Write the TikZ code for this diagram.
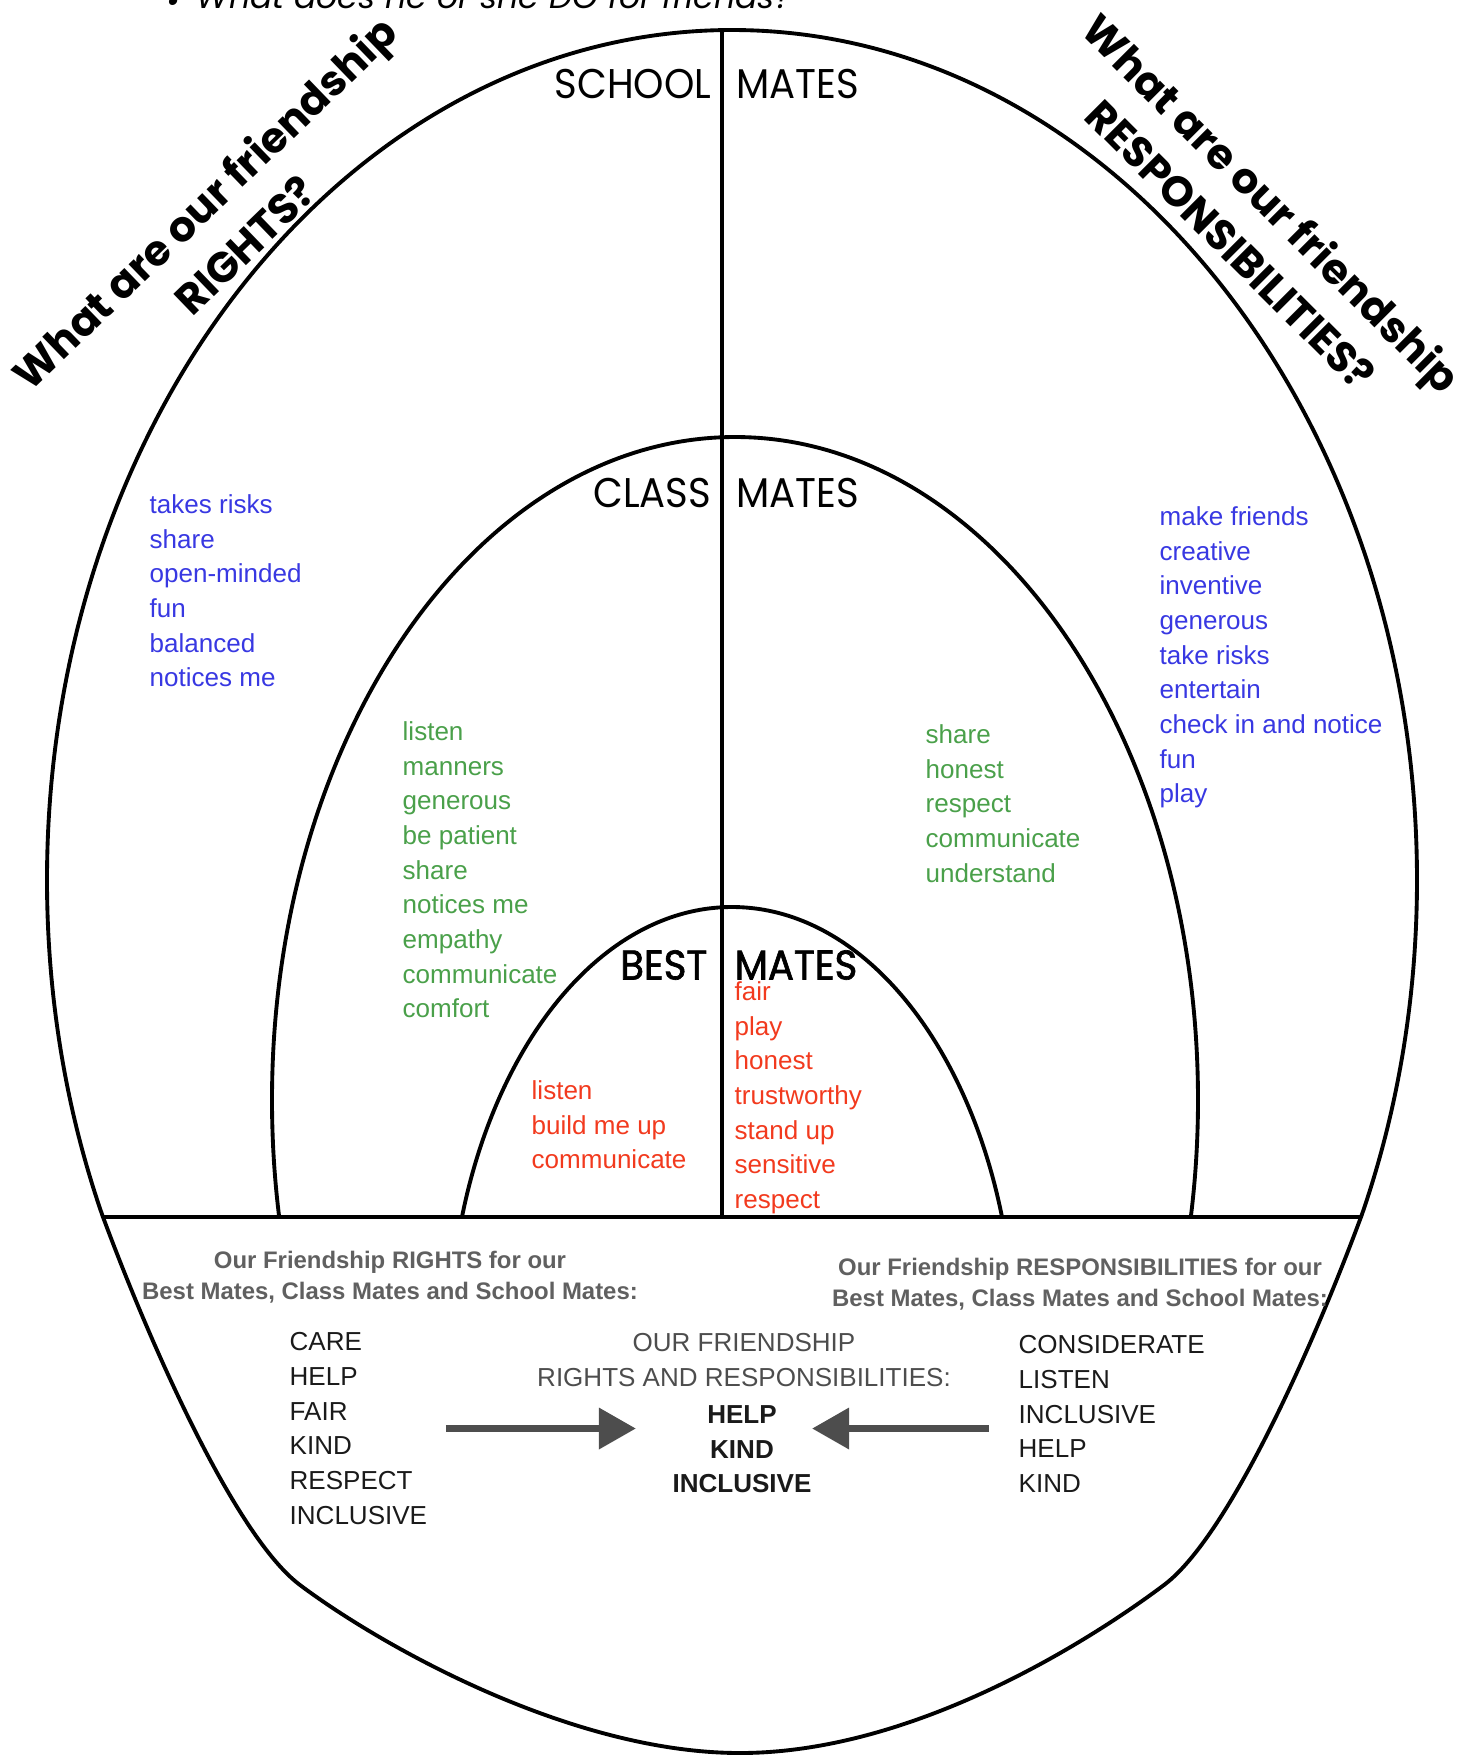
\documentclass[tikz,border=0pt]{standalone}
\usepackage{fontspec}
\setmainfont{Liberation Sans}
\newfontfamily\futura{Poppins}
\newfontfamily\futuraring{Poppins}[FakeStretch=0.93]
\newfontfamily\futurabest{Poppins}[FakeStretch=0.93,FakeBold=1.6]
\usepackage{xcolor}
\definecolor{fblue}{HTML}{3838E2}
\definecolor{fgreen}{HTML}{4AA04A}
\definecolor{fred}{HTML}{F23A1E}
\definecolor{fgray}{HTML}{606060}
\definecolor{fdark}{HTML}{1A1A1A}
\definecolor{farrow}{HTML}{4D4D4D}
\usetikzlibrary{arrows.meta}

\begin{document}
\begin{tikzpicture}[x=0.01cm,y=-0.01cm,
  rim/.style={line width=1.1pt},
  ring/.style={font=\futuraring\fontsize{11.8}{14}\selectfont,inner sep=0pt},
  words/.style={font=\fontsize{7.4}{9.85}\selectfont,align=left,inner sep=0pt,anchor=north west},
  caps/.style={words,text=fdark},
  title/.style={font=\futura\bfseries\fontsize{12}{16.5}\selectfont,align=center,inner sep=0pt},
  head/.style={font=\bfseries\fontsize{6.8}{8.9}\selectfont,align=center,text=fgray,inner sep=0pt},
  push/.style={-{Triangle[length=0.37cm,width=0.40cm]},line width=2pt,farrow}]
\clip (0,0) rectangle (1470,1756);
% circles of friends
\begin{scope}
  \clip (0,0) rectangle (1470,1217);
  \draw[rim] (732,880) ellipse [x radius=685, y radius=850];
  \draw[rim] (735,1100) ellipse [x radius=463, y radius=663];
  \draw[rim] (732,1350) ellipse [x radius=283, y radius=443];
\end{scope}
\draw[rim] (103,1217) .. controls (152,1349) and (236,1537) .. (300,1585)
  .. controls (380,1645) and (570,1753) .. (740,1753)
  .. controls (910,1753) and (1084,1645) .. (1164,1585)
  .. controls (1228,1537) and (1312,1349) .. (1361,1217);
\draw[line width=1pt] (722,30) -- (722,1217);
\draw[line width=1.4pt] (103,1217) -- (1361,1217);

\node[font=\futura\itshape\fontsize{9.4}{11}\selectfont,anchor=base west,inner sep=0pt] (ask)
  at (166,8) {\raisebox{-0.15em}{\textbullet}\enspace What does he or she DO for friends?};
\node[title,rotate=44] (rtitle) at (224,223) {What are our friendship\\RIGHTS?};
\node[title,rotate=-45] (stitle) at (1252,223) {What are our friendship\\RESPONSIBILITIES?};

\node[ring,anchor=east] (school) at (712,84) {SCHOOL};
\node[ring,anchor=west] (schoolm) at (736,84) {MATES};
\node[ring,anchor=east] (class) at (712,493) {CLASS};
\node[ring,anchor=west] (classm) at (736,493) {MATES};
\node[ring,font=\futurabest\fontsize{11.8}{14}\selectfont,anchor=east] (best) at (708,965) {BEST};
\node[ring,font=\futurabest\fontsize{11.8}{14}\selectfont,anchor=west] (bestm) at (734,965) {MATES};

% what friends do
\node[words,text=fblue] (rschool) at (149,494) {takes risks\\share\\open-minded\\fun\\balanced\\notices me};
\node[words,text=fblue] (sschool) at (1159,506) {make friends\\creative\\inventive\\generous\\take risks\\entertain\\check in and notice\\fun\\play};
\node[words,text=fgreen] (rclass) at (402,721) {listen\\manners\\generous\\be patient\\share\\notices me\\empathy\\communicate\\comfort};
\node[words,text=fgreen] (sclass) at (925,724) {share\\honest\\respect\\communicate\\understand};
\node[words,text=fred] (rbest) at (531,1080) {listen\\build me up\\communicate};
\node[words,text=fred] (sbest) at (734,981) {fair\\play\\honest\\trustworthy\\stand up\\sensitive\\respect};

% summary under the line
\node[head] (rhead) at (390,1277) {Our Friendship RIGHTS for our\\Best Mates, Class Mates and School Mates:};
\node[head] (shead) at (1080,1284) {Our Friendship RESPONSIBILITIES for our\\Best Mates, Class Mates and School Mates:};
\node[caps] (rights) at (289,1332) {CARE\\HELP\\FAIR\\KIND\\RESPECT\\INCLUSIVE};
\node[words,align=center,anchor=north,text=fgray!80!black] (hubhead) at (744,1333) {OUR FRIENDSHIP\\RIGHTS AND RESPONSIBILITIES:};
\node[caps,align=center,anchor=north,font=\bfseries\fontsize{7.4}{9.85}\selectfont] (hub) at (742,1405) {HELP\\KIND\\INCLUSIVE};
\node[caps] (resp) at (1018,1335) {CONSIDERATE\\LISTEN\\INCLUSIVE\\HELP\\KIND};
\draw[push,shorten <=0.18cm,shorten >=0.36cm] (rights.east) -- (rights.east -| hub.west);
\draw[push,shorten <=0.29cm] (resp.west |- rights.east) -- (rights.east -| hub.east);
\end{tikzpicture}
\end{document}
